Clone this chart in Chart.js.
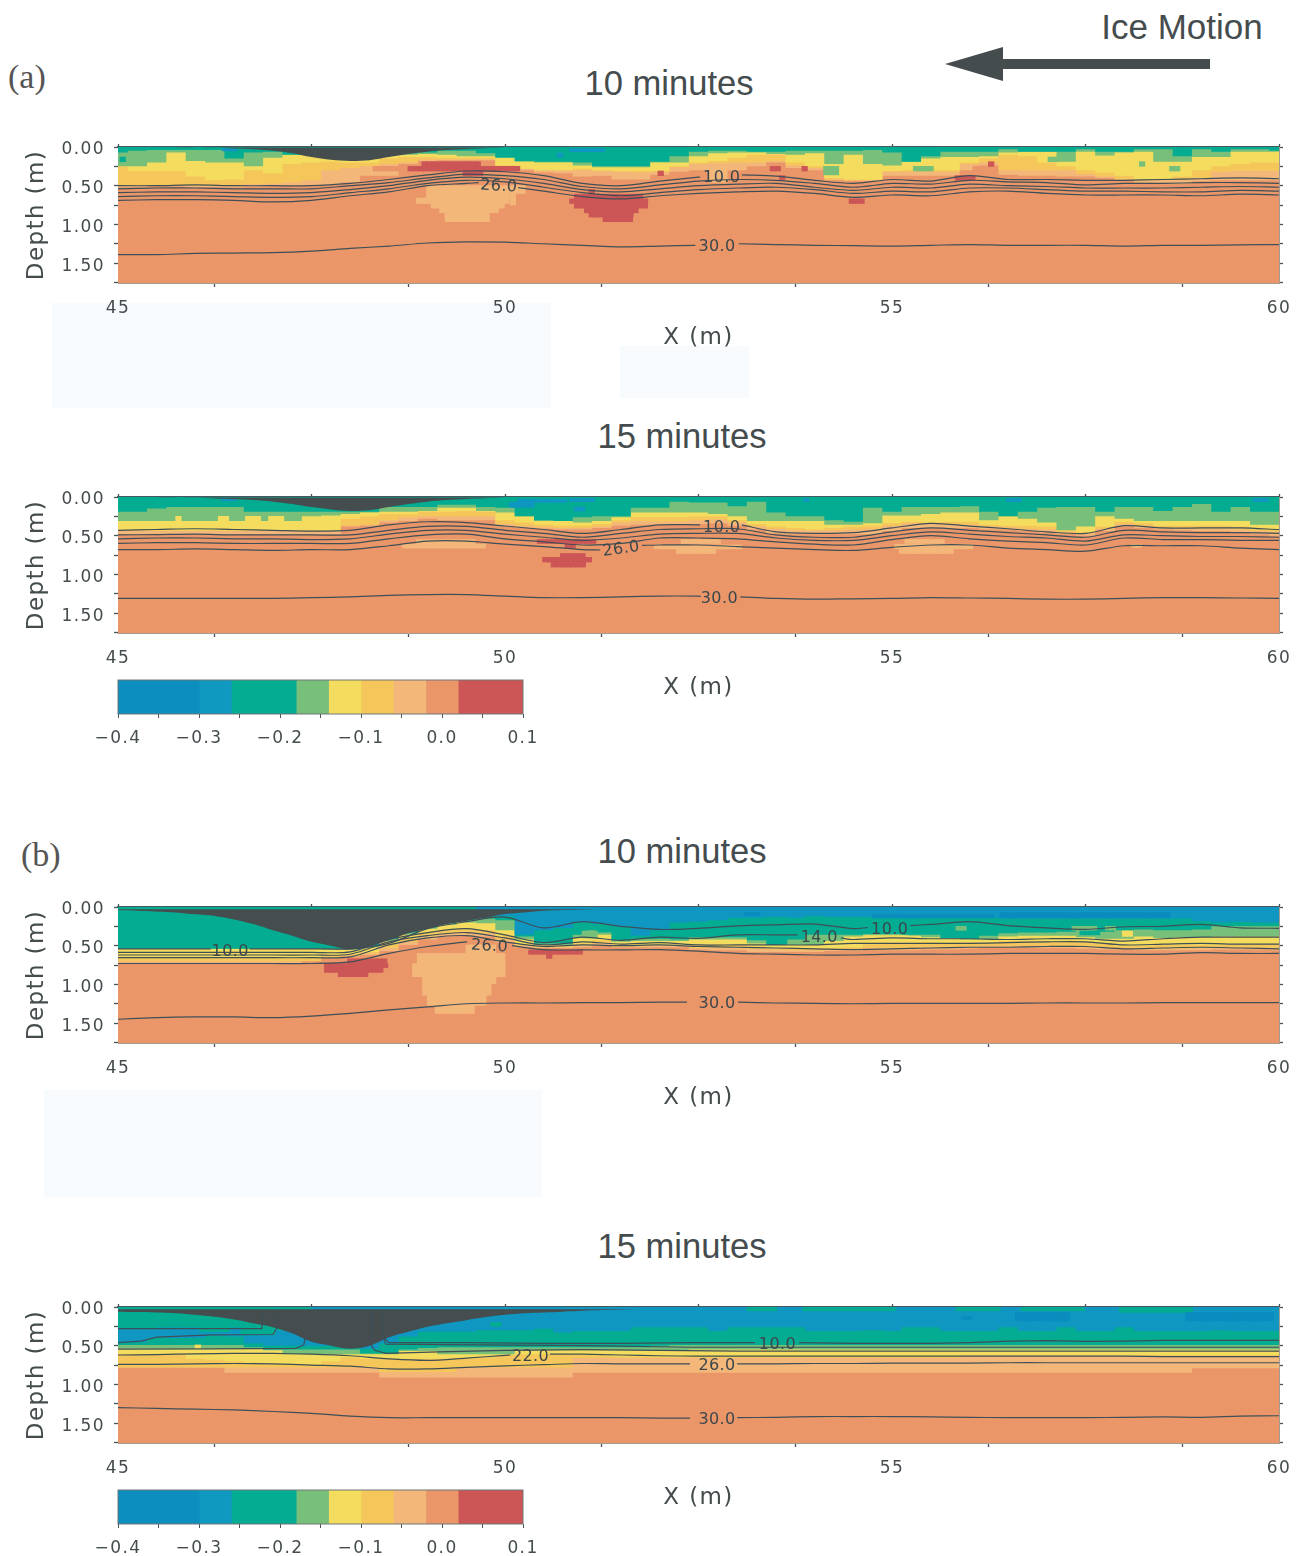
<!DOCTYPE html>
<html>
<head>
<meta charset="utf-8">
<title>Ice motion panels</title>
<script src="https://cdn.jsdelivr.net/npm/chart.js@4"></script>
<style>
  html, body { margin: 0; background: #fff; }
  #page { position: relative; width: 1303px; height: 1556px; overflow: hidden; color: #454c4e; font-family: "Liberation Sans", sans-serif; }
  #page canvas { position: absolute; left: 0; }
  .title { position: absolute; font-size: 34.6px; line-height: 40px; transform: translateX(-50%); white-space: nowrap; }
  .tag { position: absolute; font-family: "Liberation Serif", serif; font-size: 34px; line-height: 36px; color: #555; }
  .pale { position: absolute; background: #f8fbfd; }
</style>
</head>
<body>
<div id="page">
  <div class="pale" style="left:52px;top:303px;width:499px;height:105px"></div>
  <div class="pale" style="left:620px;top:346px;width:129px;height:52px"></div>
  <div class="pale" style="left:44px;top:1090px;width:498px;height:107px"></div>

  <div class="title" style="left:1182px;top:7px;font-size:35px">Ice Motion</div>
  <svg style="position:absolute;left:0;top:0" width="1303" height="100"><polygon points="945,64 1003,47 1003,59 1210,59 1210,69 1003,69 1003,81" fill="#454c4e"/></svg>
  <div class="tag" style="left:8px;top:59px">(a)</div>
  <div class="tag" style="left:21px;top:837px">(b)</div>
  <div class="title" style="left:669px;top:63px">10 minutes</div>
  <div class="title" style="left:682px;top:416px">15 minutes</div>
  <div class="title" style="left:682px;top:831px">10 minutes</div>
  <div class="title" style="left:682px;top:1226px">15 minutes</div>

  <canvas id="a10" width="1303" height="240" style="top:127px"></canvas>
  <canvas id="a15" width="1303" height="240" style="top:477px"></canvas>
  <canvas id="b10" width="1303" height="240" style="top:887px"></canvas>
  <canvas id="b15" width="1303" height="240" style="top:1287px"></canvas>
  <canvas id="barA" width="1303" height="76" style="top:670px"></canvas>
  <canvas id="barB" width="1303" height="76" style="top:1480px"></canvas>
</div>

<script>
// shared x positions
const columnX = [45,45.25,45.5,45.75,46,46.25,46.5,46.75,47,47.25,47.5,47.75,48,48.25,48.5,48.75,49,49.25,49.5,49.75,
  50,50.25,50.5,50.75,51,51.25,51.5,51.75,52,52.25,52.5,52.75,53,53.25,53.5,53.75,54,54.25,54.5,54.75,
  55,55.25,55.5,55.75,56,56.25,56.5,56.75,57,57.25,57.5,57.75,58,58.25,58.5,58.75,59,59.25,59.5,59.75,60];
const contourX = [45,45.5,46,46.5,47,47.5,48,48.5,49,49.5,50,50.5,51,51.5,52,52.5,53,53.5,54,54.5,55,55.5,56,56.5,57,57.5,58,58.5,59,59.5,60];

// colour scale
const scaleEdges = [-0.4,-0.3,-0.26,-0.18,-0.14,-0.1,-0.06,-0.02,0.02,0.1];
const scaleColors = ['#0c8ebf','#0f99c1','#04ac92','#78bf7a','#f4dd5e','#f5c65a','#f4b77a','#ea9669','#cc5555'];

// (a) 10 minutes: lower edge of each colour per column
const a10Light = [.52,.52,.5,.51,.52,.52,.52,.51,.5,.5,.5,.49,.46,.37,.37,.22,.18,.17,.17,.17,
  .25,.3,.33,.34,.38,.37,.42,.42,.36,.32,.3,.46,.3,.25,.2,.27,.3,.43,.44,.44,
  .37,.37,.37,.37,.3,.24,.36,.37,.37,.38,.38,.4,.43,.46,.47,.47,.44,.43,.43,.43,.43];
const a10Amber = [.5,.5,.5,.5,.5,.5,.5,.48,.47,.46,.43,.3,.27,.25,.22,.2,.16,.16,.16,.16,
  .25,.28,.3,.3,.3,.31,.32,.33,.32,.26,.22,.21,.2,.2,.18,.24,.27,.42,.43,.43,
  .32,.32,.32,.32,.22,.2,.3,.3,.3,.3,.35,.38,.42,.44,.44,.42,.4,.32,.31,.31,.31];
const a10Yellow = [.25,.31,.31,.31,.38,.43,.42,.3,.34,.22,.2,.19,.2,.2,.15,.13,.13,.14,.14,.14,
  .24,.28,.3,.3,.28,.3,.31,.31,.31,.25,.2,.18,.14,.1,.1,.2,.25,.4,.42,.42,
  .31,.3,.3,.3,.2,.15,.1,.12,.2,.25,.3,.33,.37,.42,.43,.38,.3,.25,.22,.2,.2];
const a10Green = [.25,.25,.2,.07,.18,.2,.2,.25,.14,.1,.1,.12,.12,.12,.1,.1,.09,.1,.12,.12,
  .13,.19,.2,.2,.24,.26,.26,.26,.2,.2,.12,.08,.07,.07,.09,.1,.08,.22,.1,.22,
  .24,.19,.15,.13,.13,.12,.07,.06,.06,.19,.06,.11,.07,.06,.19,.19,.13,.13,.06,.06,.06];
const a10Teal = [.07,.05,.04,.04,.04,.04,.15,.07,.06,.1,.1,.12,.12,.1,.1,.08,.07,.05,.05,.08,
  .14,.18,.19,.19,.2,.25,.25,.25,.19,.12,.06,.05,.05,.06,.06,.05,.05,.05,.05,.04,
  .07,.19,.12,.06,.06,.06,.03,.06,.06,.06,.03,.06,.06,.03,.03,.12,.03,.06,.03,.03,.05];
const a10Keel = [0,0,0,0,0,.01,.02,.03,.05,.08,.13,.165,.18,.17,.13,.09,.06,.04,.025,.015,.005];
const a10Patches = {
  light: [[48.99,50.07,.5,.66],[50.07,50.24,.5,.6],[50.07,50.13,.6,.75],[48.86,50.07,.66,.73],[49.05,50,.73,.79],[49.16,49.9,.79,.85],[49.23,49.77,.85,.965],[58.4,58.77,.43,.47]],
  orange: [[48.3,48.75,.25,.31],[56.05,56.35,.25,.37]],
  green: [[54.12,54.29,.25,.36],[55.28,55.51,.25,.31],[57.02,57.14,.13,.19],[58.2,58.28,.19,.25],[58.59,58.7,.25,.31]],
  teal: [[45.03,45.1,.13,.19]],
  blue: [[46.35,46.55,.02,.05],[50.84,51.3,.02,.06],[50.68,50.74,.08,.13]],
  red: [[48.75,50.18,.25,.31],[48.93,49.7,.19,.25],[49.46,49.7,.31,.37],[50.9,51.75,.61,.67],[50.84,51.87,.67,.73],[50.9,51.81,.73,.79],[51.03,51.69,.79,.85],[51.09,51.63,.85,.905],[51.27,51.63,.905,.965],[51.09,51.15,.55,.6],
    [53.43,53.55,.25,.31],[53.84,53.9,.25,.31],[51.98,52.05,.31,.37],[53.55,53.6,.37,.42],[54.45,54.62,.67,.73],[55.82,56.05,.37,.43],[56.25,56.3,.19,.25]]
};

// (a) 10 minutes: contours
const a10Level10 = [.5,.5,.49,.5,.5,.5,.47,.42,.36,.31,.32,.37,.47,.5,.44,.39,.36,.375,.43,.47,.42,.44,.37,.42,.42,.43,.43,.42,.41,.4,.41];
const a10Level14 = [.54,.53,.53,.54,.54,.54,.5,.46,.4,.35,.37,.42,.51,.54,.49,.44,.42,.43,.47,.52,.47,.48,.43,.45,.46,.49,.47,.47,.46,.46,.47];
const a10Level18 = [.59,.58,.58,.59,.6,.59,.55,.5,.43,.39,.41,.47,.55,.58,.54,.5,.48,.47,.52,.56,.52,.53,.48,.5,.51,.53,.53,.53,.52,.51,.52];
const a10Level22 = [.64,.63,.63,.64,.65,.64,.59,.54,.47,.43,.45,.52,.59,.63,.59,.55,.53,.52,.55,.6,.57,.58,.53,.53,.55,.57,.57,.58,.58,.56,.57];
const a10Level26 = [.69,.68,.68,.69,.71,.69,.63,.58,.5,.47,.49,.57,.64,.67,.63,.6,.58,.57,.6,.65,.62,.63,.58,.57,.6,.62,.62,.62,.63,.61,.62];
const a10Level30 = [1.39,1.39,1.375,1.37,1.365,1.345,1.31,1.28,1.24,1.225,1.23,1.25,1.27,1.29,1.28,1.26,1.25,1.26,1.27,1.275,1.28,1.27,1.26,1.27,1.27,1.27,1.28,1.27,1.27,1.265,1.26];
const a10Labels = [['10.0',52.8,.38,0],['26.0',49.92,.49,3],['30.0',52.74,1.27,0]];

// (a) 15 minutes
const a15Light = [.48,.48,.48,.48,.48,.48,.48,.48,.48,.48,.48,.48,.38,.37,.33,.31,.28,.3,.3,.3,
  .38,.4,.41,.42,.42,.4,.37,.36,.36,.35,.35,.34,.37,.42,.47,.48,.48,.48,.48,.48,
  .44,.4,.4,.4,.4,.42,.42,.44,.46,.48,.5,.44,.38,.4,.42,.43,.44,.44,.46,.48,.5];
const a15Amber = [.44,.44,.44,.44,.44,.44,.44,.44,.44,.44,.44,.44,.37,.36,.3,.26,.25,.25,.25,.25,
  .35,.37,.39,.4,.4,.38,.33,.31,.32,.32,.3,.29,.33,.38,.41,.43,.43,.43,.42,.41,
  .37,.34,.35,.36,.36,.38,.39,.41,.42,.46,.47,.41,.35,.37,.4,.41,.41,.41,.42,.44,.45];
const a15Yellow = [.43,.43,.43,.43,.43,.43,.43,.43,.43,.43,.43,.43,.28,.25,.22,.22,.19,.19,.18,.19,
  .3,.33,.36,.37,.37,.35,.3,.26,.26,.26,.25,.25,.3,.35,.38,.4,.42,.4,.38,.37,
  .34,.32,.33,.32,.32,.36,.37,.37,.38,.43,.46,.38,.32,.34,.37,.37,.37,.37,.38,.41,.43];
const a15Green = [.31,.31,.31,.31,.31,.31,.31,.31,.31,.31,.25,.24,.22,.2,.19,.19,.18,.14,.14,.18,
  .2,.25,.31,.31,.33,.31,.26,.2,.2,.2,.2,.22,.25,.31,.31,.31,.31,.36,.36,.34,
  .24,.24,.22,.2,.2,.3,.25,.28,.33,.43,.38,.25,.28,.31,.31,.31,.31,.31,.31,.36,.36];
const a15Teal = [.19,.19,.15,.13,.13,.13,.13,.19,.19,.19,.19,.19,.19,.19,.13,.13,.13,.1,.1,.13,
  .14,.25,.3,.31,.26,.25,.25,.14,.14,.06,.07,.07,.12,.06,.2,.25,.25,.3,.32,.14,
  .19,.13,.13,.13,.12,.19,.25,.19,.14,.13,.13,.19,.13,.13,.18,.13,.09,.19,.13,.19,.19];
const a15Keel = [0,0,0,.005,.01,.02,.03,.04,.06,.09,.13,.16,.18,.17,.13,.09,.06,.04,.025,.015,.005];
const a15Patches = {
  light: [[48.68,49.77,.61,.66],[48.86,49.64,.55,.61],[51.93,53.06,.62,.67],[52.22,52.7,.67,.73],[52.28,52.8,.55,.6],[55.17,55.64,.55,.6],[55.1,55.8,.67,.73],[55.04,56.05,.61,.67],[58.1,58.23,.61,.65]],
  yellow: [[45.75,45.81,.25,.31],[46.3,46.42,.25,.31],[46.65,46.83,.25,.31],[46.95,47.13,.25,.31]],
  blue: [[50.17,50.78,.03,.07],[50.06,50.37,.07,.13],[50.84,51.14,.02,.06],[50.9,51,.13,.18],[46.34,46.53,.02,.05],[50.09,50.2,.07,.13],[53.86,53.9,.02,.06],[56.48,56.65,.02,.06],[59.67,59.84,.02,.06]],
  red: [[50.42,51.14,.55,.6],[50.78,50.9,.6,.66],[50.72,51.02,.73,.78],[50.49,51.14,.78,.84],[50.6,51.02,.84,.905]]
};
const a15Level10 = [.43,.42,.41,.42,.43,.44,.43,.36,.32,.33,.375,.42,.47,.42,.36,.36,.36,.45,.47,.46,.4,.34,.375,.41,.45,.47,.37,.4,.4,.4,.42];
const a15Level14 = [.49,.485,.48,.49,.49,.49,.49,.43,.38,.38,.43,.47,.52,.47,.42,.41,.41,.49,.52,.52,.45,.4,.43,.46,.49,.52,.43,.45,.46,.46,.47];
const a15Level18 = [.54,.53,.53,.54,.54,.55,.54,.48,.43,.43,.48,.52,.56,.53,.48,.47,.47,.53,.56,.56,.5,.45,.48,.51,.53,.57,.49,.5,.51,.51,.52];
const a15Level22 = [.6,.59,.59,.6,.6,.6,.6,.54,.49,.48,.54,.58,.62,.6,.53,.53,.54,.58,.61,.62,.55,.5,.54,.57,.59,.62,.53,.55,.55,.56,.56];
const a15Level26 = [.68,.68,.67,.68,.69,.68,.68,.63,.57,.57,.61,.64,.68,.66,.62,.62,.64,.66,.68,.69,.65,.62,.62,.66,.68,.7,.63,.63,.63,.66,.68];
const a15Level30 = [1.31,1.31,1.31,1.31,1.31,1.3,1.29,1.27,1.26,1.26,1.28,1.3,1.3,1.29,1.28,1.28,1.29,1.31,1.32,1.315,1.31,1.3,1.305,1.31,1.32,1.32,1.31,1.3,1.3,1.305,1.31];
const a15Labels = [['10.0',52.8,.375,0],['26.0',51.5,.655,-8],['30.0',52.77,1.295,0]];

// (b) 10 minutes
const b10Light = [.73,.73,.73,.73,.73,.73,.73,.73,.73,.73,.66,.64,.64,.62,.57,.49,.42,.38,.37,.38,
  .46,.52,.53,.53,.52,.5,.52,.52,.52,.52,
  .55,.56,.56,.58,.58,.58,.58,.57,.57,.56,.56,.56,.55,.55,.54,.53,.53,.53,.53,.53,.54,.55,.55,.56,.56,.56,.56,.55,.55,.55,.56];
const b10Amber = [.7,.7,.7,.7,.7,.7,.7,.7,.7,.7,.7,.66,.63,.6,.53,.45,.38,.34,.33,.34,
  .42,.5,.52,.52,.5,.47,.51,.51,.5,.5,
  .53,.53,.53,.54,.55,.56,.56,.55,.54,.53,.53,.53,.52,.52,.51,.5,.5,.5,.5,.5,.52,.53,.53,.54,.54,.54,.53,.53,.53,.53,.53];
const b10Yellow = [.66,.66,.66,.66,.66,.66,.66,.66,.66,.66,.66,.62,.61,.58,.47,.4,.33,.3,.29,.3,
  .37,.49,.51,.51,.47,.43,.5,.49,.49,.49,
  .48,.48,.49,.51,.53,.53,.53,.53,.52,.48,.47,.47,.46,.46,.46,.46,.44,.44,.44,.44,.45,.47,.5,.5,.49,.49,.49,.49,.48,.48,.48];
const b10Green = [.54,.54,.54,.54,.54,.54,.54,.54,.54,.54,.54,.55,.55,.52,.44,.36,.28,.23,.2,.21,
  .3,.42,.49,.49,.4,.36,.45,.44,.44,.44,
  .42,.42,.42,.47,.49,.49,.49,.44,.38,.37,.37,.37,.39,.41,.42,.42,.38,.37,.37,.37,.39,.41,.41,.38,.4,.39,.39,.38,.38,.38,.38];
const b10Teal = [.54,.54,.54,.54,.54,.54,.54,.54,.54,.54,.54,.54,.54,.5,.41,.33,.26,.2,.17,.15,
  .17,.38,.47,.47,.36,.33,.43,.41,.41,.42,
  .39,.39,.39,.43,.49,.42,.36,.36,.36,.35,.35,.36,.36,.4,.41,.37,.34,.33,.33,.32,.28,.32,.3,.29,.3,.3,.29,.25,.25,.25,.25];
const b10Blue = [0,0,0,0,0,0,0,0,0,0,0,0,0,0,0,0,0,0,0,.1,
  .12,.36,.3,.27,.2,.22,.25,.37,.3,.2,
  .19,.17,.14,.14,.13,.14,.12,.13,.13,.13,.13,.15,.14,.13,.13,.14,.15,.15,.15,.15,.15,.15,.15,.15,.15,.15,.18,.2,.19,.2,.2];
const b10Keel = [.04,.05,.06,.07,.095,.115,.16,.22,.3,.37,.45,.5,.55,.51,.43,.34,.28,.22,.18,.14,.09,.07,.05,.04,.035,.025,.02,.015,.01,.01,.005];
const b10Patches = {
  light: [[48.87,50.02,.6,.73],[48.81,50,.73,.9],[48.94,49.87,.9,.99],[48.94,49.82,.99,1.14],[49,49.75,1.14,1.27],[49.1,49.58,1.27,1.375],[49.5,49.87,.49,.6]],
  yellow: [[51.09,51.16,.31,.35],[57.98,58.1,.31,.38],[54.64,55.2,.37,.41]],
  green: [[55.83,55.95,.25,.3],[57.33,57.63,.25,.3],[57.76,57.86,.25,.3],[51,51.2,.31,.4]],
  teal: [[53.45,53.65,.36,.48],[57.43,57.68,.31,.36]],
  deep: [[54.75,56.3,.1,.14],[56.4,58.6,.07,.14],[53.1,53.3,.07,.11]],
  red: [[47.97,48.44,.67,.73],[47.67,48.51,.73,.785],[47.67,48.39,.785,.845],[47.85,48.2,.845,.9],[50.31,50.97,.555,.61],[50.54,50.6,.61,.665]]
};
const b10Level10 = [.54,.54,.54,.54,.54,.54,.54,.47,.28,.19,.13,.27,.19,.25,.29,.275,.245,.23,.22,.28,.245,.225,.19,.24,.27,.29,.255,.25,.225,.27,.275];
const b10Level14 = [.585,.585,.585,.585,.585,.585,.58,.42,.33,.28,.36,.46,.39,.43,.39,.405,.36,.36,.39,.42,.4,.41,.41,.42,.41,.41,.44,.41,.39,.39,.39];
const b10Level18 = [.62,.62,.62,.62,.62,.62,.61,.45,.37,.33,.4,.49,.45,.48,.46,.49,.49,.49,.49,.47,.47,.47,.47,.46,.45,.45,.49,.48,.47,.48,.48];
const b10Level22 = [.655,.655,.655,.655,.655,.655,.645,.49,.4,.37,.45,.51,.49,.5,.49,.51,.52,.53,.54,.55,.54,.53,.52,.52,.51,.51,.54,.53,.52,.53,.54];
const b10Level26 = [.73,.73,.73,.73,.73,.73,.71,.6,.51,.45,.48,.55,.555,.555,.55,.57,.6,.61,.62,.62,.61,.61,.61,.6,.6,.6,.61,.61,.59,.6,.6];
const b10Level30 = [1.45,1.43,1.42,1.42,1.43,1.41,1.375,1.33,1.29,1.25,1.24,1.24,1.235,1.235,1.23,1.23,1.23,1.24,1.245,1.25,1.245,1.245,1.245,1.245,1.24,1.24,1.24,1.235,1.235,1.235,1.235];
const b10Labels = [['10.0',46.45,.555,0],['10.0',54.97,.27,0],['14.0',54.06,.385,0],['26.0',49.8,.49,3],['30.0',52.74,1.235,0]];

// (b) 15 minutes
const b15Light = [.78,.78,.78,.78,.78,.78,.85,.85,.85,.85,.85,.85,.85,.85,.91,.91,.91,.91,.91,.91,
  .91,.91,.91,.91,.85,.85,.85,.85,.85,.85,
  .85,.85,.85,.85,.85,.85,.85,.85,.85,.85,.85,.85,.85,.85,.85,.85,.85,.85,.85,.85,.85,.85,.85,.85,.85,.85,.79,.79,.79,.79,.79];
const b15Amber = [.78,.78,.78,.78,.78,.78,.78,.78,.78,.78,.78,.78,.78,.78,.84,.84,.84,.84,.78,.78,
  .78,.78,.78,.78,.66,.66,.66,.66,.66,.66,
  .66,.66,.66,.66,.66,.66,.66,.66,.66,.66,.66,.66,.66,.66,.64,.64,.64,.64,.64,.64,.64,.64,.64,.64,.64,.64,.64,.64,.64,.64,.64];
const b15Yellow = [.61,.61,.61,.61,.67,.68,.7,.72,.73,.74,.74,.7,.65,.67,.67,.67,.67,.67,.67,.65,
  .62,.61,.61,.62,.62,.63,.64,.64,.64,.64,
  .64,.64,.64,.64,.64,.64,.64,.64,.64,.64,.64,.64,.64,.64,.62,.62,.62,.62,.62,.62,.62,.62,.62,.62,.62,.62,.62,.62,.62,.62,.62];
const b15Green = [.54,.54,.54,.54,.54,.54,.54,.54,.56,.61,.61,.61,.61,.61,.61,.57,.57,.61,.61,.61,
  .61,.56,.56,.56,.56,.56,.56,.56,.56,.56,
  .55,.55,.55,.55,.55,.55,.55,.55,.55,.55,.55,.55,.55,.55,.55,.55,.55,.55,.55,.55,.55,.55,.55,.55,.55,.55,.55,.55,.55,.55,.55];
const b15Teal = [.49,.49,.49,.49,.49,.49,.49,.52,.55,.55,.55,.55,.55,.6,.6,.55,.53,.52,.52,.52,
  .52,.52,.52,.52,.52,.52,.52,.52,.5,.49,
  .49,.49,.49,.49,.49,.49,.49,.49,.49,.49,.49,.49,.49,.49,.49,.49,.49,.49,.49,.49,.49,.49,.49,.49,.49,.49,.49,.49,.49,.49,.49];
const b15Blue = [.46,.46,.4,.4,.4,.37,.38,.47,.5,.5,.5,.5,.5,.54,.47,.38,.32,.32,.32,.3,
  .3,.3,.28,.33,.31,.31,.31,.26,.26,.26,
  .26,.31,.26,.26,.26,.26,.31,.31,.31,.3,.31,.26,.26,.31,.31,.31,.26,.31,.31,.26,.31,.31,.26,.31,.31,.31,.31,.3,.31,.31,.31];
const b15Keel = [.06,.065,.07,.08,.1,.125,.16,.21,.26,.34,.45,.5,.54,.5,.39,.32,.255,.21,.17,.13,.1,.08,.07,.06,.05,.04,.035,.03,.025,.02,.015,.01,.005];
const b15Patches = {
  teal: [[45,45.5,0,.28],[45.5,46.06,0,.26],[46.06,46.42,0,.32],[46.42,46.59,0,.26],[46.59,47.05,0,.36],[47.05,47.5,0,.3],[49.82,49.95,.2,.25],
    [53.85,55.03,0,.05],[55.83,56.42,0,.05],[56.67,57.48,0,.05],[57.94,58.87,0,.07],[53.13,53.53,0,.05]],
  deep: [[55.9,56,.12,.16],[56.6,57.3,.07,.18],[58.8,59.9,.07,.18]],
  yellow: [[46.0,46.06,.49,.54]]
};
const b15Level22 = [.62,.615,.605,.6,.6,.61,.63,.67,.69,.66,.625,.61,.61,.62,.63,.635,.635,.635,.635,.635,.635,.635,.635,.635,.635,.635,.635,.64,.64,.64,.64];
const b15Level26 = [.74,.74,.735,.73,.735,.75,.765,.8,.8,.78,.76,.745,.73,.735,.735,.735,.735,.735,.73,.73,.725,.725,.725,.72,.72,.72,.72,.72,.72,.72,.72];
const b15Level30 = [1.3,1.31,1.32,1.33,1.35,1.375,1.41,1.43,1.43,1.43,1.43,1.43,1.43,1.43,1.435,1.435,1.43,1.425,1.415,1.415,1.415,1.42,1.425,1.43,1.43,1.43,1.425,1.42,1.425,1.41,1.405];
// near the keel these contours turn upward, so they keep their own x lists
const b15EdgeAX = [45,46,46.5,46.86,46.87];
const b15EdgeAY = [.28,.28,.28,.28,.03];
const b15EdgeBX = [45,45.3,45.5,46.22,47,47.05,47.06];
const b15EdgeBY = [.46,.44,.39,.36,.355,.28,.04];
const b15EdgeCX = [45,46.22,47.3,47.4,47.42];
const b15EdgeCY = [.545,.54,.535,.49,.39];
const b15EdgeDX = [48.27,48.28,48.32,48.46,49.14,50,51,52,53,54,55,56,57,58,59,60];
const b15EdgeDY = [.04,.51,.56,.6,.58,.56,.55,.56,.57,.57,.57,.57,.57,.57,.57,.57];
const b15EdgeEX = [48.42,48.43,48.46,49.63,51.09,52.39,53,54,55,56,57,58,59,60];
const b15EdgeEY = [.04,.4,.48,.49,.5,.52,.52,.52,.52,.52,.52,.52,.52,.52];
const b15EdgeFX = [48.44,48.5,49.5,50.5,51.5,52.39,53,53.23,53.8,54.5,55,55.5,56,56.5,57,57.5,58,58.5,59,59.5,60];
const b15EdgeFY = [.4,.46,.46,.47,.47,.46,.46,.46,.46,.47,.47,.47,.46,.44,.435,.445,.44,.43,.43,.43,.43];
const b15Labels = [['10.0',53.52,.47,0],['22.0',50.33,.62,0],['26.0',52.74,.735,0],['30.0',52.74,1.44,0]];

const bandColors = { light:'#f4b77a', orange:'#ea9669', amber:'#f5c65a', yellow:'#f4dd5e', green:'#78bf7a', teal:'#04ac92', blue:'#0f97c2', deep:'#0b8cbe', red:'#cc5555' };
const inkColor = '#3e4f57';
const tickFont = { family: 'DejaVu Sans', size: 17 };
const axisTitleFont = { family: 'DejaVu Sans', size: 23 };

const spacedText = {
  id: 'spacedText',
  beforeDraw(chart) { chart.ctx.letterSpacing = '1.4px'; }
};

function plotBackground(color) {
  return {
    id: 'plotBackground',
    beforeDatasetsDraw(chart) {
      const a = chart.chartArea;
      chart.ctx.fillStyle = color;
      chart.ctx.fillRect(a.left, a.top, a.width, a.height);
    }
  };
}

function contourText(items) {
  return {
    id: 'contourText',
    afterDatasetsDraw(chart) {
      const ctx = chart.ctx;
      items.forEach(([text, x, y, angle]) => {
        ctx.save();
        ctx.translate(chart.scales.x.getPixelForValue(x), chart.scales.y.getPixelForValue(y) + 1.5);
        ctx.rotate(angle * Math.PI / 180);
        ctx.font = '16px "DejaVu Sans"';
        ctx.letterSpacing = '0.4px';
        ctx.fillStyle = '#3c474c';
        ctx.textAlign = 'center';
        ctx.textBaseline = 'middle';
        ctx.fillText(text, 0, 0);
        ctx.restore();
      });
    }
  };
}

// one filled band, painted from the surface down to its lower edge
function band(values, color) {
  return {
    type: 'line',
    data: values.map((v, i) => ({ x: columnX[i], y: v })),
    stepped: 'middle', borderWidth: 0, pointRadius: 0,
    backgroundColor: color, fill: { value: 0 }
  };
}

function patchBars(name, rects) {
  const step = 0.0625, bars = [];
  rects.forEach(([x0, x1, top, bottom]) => {
    for (let x = x0 + step / 2; x < x1; x += step) bars.push({ x, y: [top, bottom] });
  });
  return { type: 'bar', data: bars, backgroundColor: bandColors[name], barThickness: 5.6, grouped: false, borderWidth: 0 };
}

function keelLine(values, cap) {
  return {
    type: 'line',
    data: values.map((v, i) => ({ x: columnX[i], y: Math.max(v, cap) })),
    borderWidth: 0, pointRadius: 0, tension: 0.3,
    backgroundColor: '#454d4f', fill: { value: cap }
  };
}

// gaps = [x0, y0, x1, y1]: the line stops at the first point and starts again at the second
function contourLine(xs, ys, gaps, tension) {
  let pts = xs.map((x, i) => ({ x, y: ys[i] }));
  (gaps || []).forEach(([x0, y0, x1, y1]) => {
    pts = pts.filter(p => p.x < x0 || p.x > x1);
    pts.push({ x: x0, y: y0 }, { x: (x0 + x1) / 2, y: null }, { x: x1, y: y1 });
  });
  pts.sort((a, b) => a.x - b.x);
  return {
    type: 'line', data: pts, borderColor: inkColor, borderWidth: 1.2,
    pointRadius: 0, tension: tension === undefined ? 0.3 : tension, spanGaps: false, fill: false
  };
}

function panelChart(id, bands, patches, keel, lines, labels) {
  const order = ['light', 'orange', 'amber', 'yellow', 'green', 'teal', 'blue', 'deep', 'red'];
  const datasets = [...bands];
  order.forEach(name => { if (patches[name]) datasets.push(patchBars(name, patches[name])); });
  datasets.push(keel, ...lines);
  datasets.forEach((d, i) => { d.order = datasets.length - i; });

  const xTicks = { min: 45, max: 60, type: 'linear', offset: false };
  const yTicks = { min: 0, max: 1.757, type: 'linear', reverse: true, offset: false };
  const markOnly = { drawOnChartArea: false, tickLength: 4, tickColor: '#46555b', tickWidth: 1.3 };

  return new Chart(document.getElementById(id), {
    data: { datasets },
    plugins: [spacedText, plotBackground(bandColors.orange), contourText(labels)],
    options: {
      responsive: false, animation: false, events: [], devicePixelRatio: 1,
      layout: { padding: 0 },
      plugins: { legend: { display: false }, tooltip: { enabled: false } },
      scales: {
        x: { ...xTicks, position: 'bottom', grid: markOnly,
          border: { color: '#a59b90', width: 1 },
          afterFit(s) { s.height = 84; },
          ticks: { stepSize: 2.5, includeBounds: false, autoSkip: false, maxRotation: 0, padding: 11, font: tickFont, color: '#454c4e',
            callback: v => (v % 5 === 0 ? String(v) : '') },
          title: { display: true, text: 'X (m)', font: axisTitleFont, color: '#454c4e', padding: { top: 0, bottom: 15 } } },
        xTop: { ...xTicks, position: 'top', grid: { ...markOnly, tickLength: 3 },
          border: { color: '#46585e', width: 2 },
          afterFit(s) { s.height = 20; },
          ticks: { stepSize: 2.5, includeBounds: false, display: false } },
        y: { ...yTicks, position: 'left', grid: markOnly,
          border: { color: '#a59b90', width: 1 },
          afterFit(s) { s.width = 118; },
          ticks: { stepSize: 0.25, includeBounds: false, autoSkip: false, padding: 9, labelOffset: 3, font: tickFont, color: '#454c4e',
            callback: v => (Math.abs(v / 0.5 - Math.round(v / 0.5)) < 1e-6 ? v.toFixed(2) : '') },
          title: { display: true, text: 'Depth (m)', font: axisTitleFont, color: '#454c4e', padding: { top: 23, bottom: 0 } } },
        yRight: { ...yTicks, position: 'right', grid: markOnly,
          border: { color: '#a59b90', width: 1 },
          afterFit(s) { s.width = 24; },
          ticks: { stepSize: 0.25, includeBounds: false, display: false } }
      }
    }
  });
}

function colorBar(id) {
  const datasets = scaleColors.map((c, i) => ({
    data: [[scaleEdges[i], scaleEdges[i + 1]]], backgroundColor: c,
    barPercentage: 1, categoryPercentage: 1, grouped: false, borderWidth: 0
  }));
  return new Chart(document.getElementById(id), {
    type: 'bar',
    data: { labels: [''], datasets },
    plugins: [spacedText, {
      id: 'barFrame',
      afterDatasetsDraw(chart) {
        const a = chart.chartArea;
        chart.ctx.strokeStyle = '#6e7678';
        chart.ctx.lineWidth = 1;
        chart.ctx.strokeRect(a.left, a.top, a.width, a.height);
      }
    }],
    options: {
      indexAxis: 'y', responsive: false, animation: false, events: [], devicePixelRatio: 1,
      layout: { padding: { left: 118, right: 780, top: 10 } },
      plugins: { legend: { display: false }, tooltip: { enabled: false } },
      scales: {
        y: { display: false },
        x: { min: -0.4, max: 0.1, grid: { drawOnChartArea: false, tickLength: 4, tickColor: '#46555b' },
          border: { display: false },
          afterFit(s) { s.height = 32; },
          ticks: { stepSize: 0.05, autoSkip: false, maxRotation: 0, padding: 10, font: tickFont, color: '#454c4e',
            callback: v => (Math.abs(v * 10 - Math.round(v * 10)) < 1e-6 ? v.toFixed(1).replace('-', '\u2212') : '') } }
      }
    }
  });
}

panelChart('a10',
  [band(a10Light, bandColors.light), band(a10Amber, bandColors.amber), band(a10Yellow, bandColors.yellow), band(a10Green, bandColors.green), band(a10Teal, bandColors.teal)],
  a10Patches, keelLine(a10Keel, 0.005),
  [contourLine(contourX, a10Level10, [[52.52, .39, 53.06, .36]]),
   contourLine(contourX, a10Level14), contourLine(contourX, a10Level18), contourLine(contourX, a10Level22),
   contourLine(contourX, a10Level26, [[49.66, .46, 50.17, .525]]),
   contourLine(contourX, a10Level30, [[52.46, 1.27, 53.02, 1.25]])],
  a10Labels);

panelChart('a15',
  [band(a15Light, bandColors.light), band(a15Amber, bandColors.amber), band(a15Yellow, bandColors.yellow), band(a15Green, bandColors.green), band(a15Teal, bandColors.teal)],
  a15Patches, keelLine(a15Keel, 0.005),
  [contourLine(contourX, a15Level10, [[52.52, .36, 53.06, .36]]),
   contourLine(contourX, a15Level14), contourLine(contourX, a15Level18), contourLine(contourX, a15Level22),
   contourLine(contourX, a15Level26, [[51.23, .685, 51.77, .625]]),
   contourLine(contourX, a15Level30, [[52.53, 1.285, 53.04, 1.29]])],
  a15Labels);

panelChart('b10',
  [band(b10Light, bandColors.light), band(b10Amber, bandColors.amber), band(b10Yellow, bandColors.yellow), band(b10Green, bandColors.green), band(b10Teal, bandColors.teal), band(b10Blue, bandColors.blue)],
  b10Patches, keelLine(b10Keel, 0.03),
  [contourLine(contourX, b10Level10, [[46.2, .54, 46.7, .54], [54.69, .265, 55.24, .24]]),
   contourLine(contourX, b10Level14, [[53.78, .36, 54.34, .4]]),
   contourLine(contourX, b10Level18), contourLine(contourX, b10Level22),
   contourLine(contourX, b10Level26, [[49.51, .45, 50.09, .5]]),
   contourLine(contourX, b10Level30, [[52.35, 1.23, 53.01, 1.23]])],
  b10Labels);

panelChart('b15',
  [band(b15Light, bandColors.light), band(b15Amber, bandColors.amber), band(b15Yellow, bandColors.yellow), band(b15Green, bandColors.green), band(b15Teal, bandColors.teal), band(b15Blue, bandColors.blue)],
  b15Patches, keelLine(b15Keel, 0.03),
  [contourLine(b15EdgeAX, b15EdgeAY, null, 0), contourLine(b15EdgeBX, b15EdgeBY, null, 0), contourLine(b15EdgeCX, b15EdgeCY, null, 0),
   contourLine(b15EdgeDX, b15EdgeDY, null, 0), contourLine(b15EdgeEX, b15EdgeEY, null, 0),
   contourLine(b15EdgeFX, b15EdgeFY, [[53.23, .46, 53.8, .46]], 0),
   contourLine(contourX, b15Level22, [[50.07, .62, 50.58, .61]]),
   contourLine(contourX, b15Level26, [[52.39, .735, 53, .735]]),
   contourLine(contourX, b15Level30, [[52.39, 1.435, 53, 1.43]])],
  b15Labels);

colorBar('barA');
colorBar('barB');
</script>
</body>
</html>
